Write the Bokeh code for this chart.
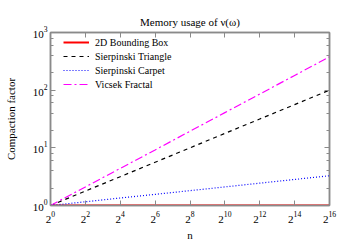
from bokeh.plotting import figure
from bokeh.models import (LogAxis, FixedTicker, LogTicker, LogTickFormatter, Legend, LegendItem,
                          CustomJSTickFormatter)
from bokeh.embed import file_html
from bokeh.resources import INLINE

# ---- data ----
n = [1, 4, 16, 64, 256, 1024, 4096, 16384, 65536]
bounding_box = [1, 1, 1, 1, 1, 1, 1, 1, 1]
sierpinski_triangle = [1, 1.78, 3.16, 5.62, 10.0, 17.8, 31.6, 56.2, 100]
sierpinski_carpet = [1, 1.16, 1.35, 1.56, 1.81, 2.10, 2.44, 2.83, 3.28]
vicsek_fractal = [1, 2.1, 4.4, 9.2, 19.4, 40.8, 85.6, 180, 378]
x_ticks = [1, 4, 16, 64, 256, 1024, 4096, 16384, 65536]
y_ticks = [1, 10, 100, 1000]

FONT = "Liberation Serif"
GRAY = "#8a8a8a"
FRAME_W, FRAME_H = 279, 173

p = figure(frame_width=FRAME_W, frame_height=FRAME_H, x_axis_type="log", y_axis_type="log",
           x_range=(1, 65536), y_range=(1, 1000),
           title="Memory usage of ν(ω)",
           output_backend="svg", toolbar_location=None,
           min_border_left=50, min_border_right=21, min_border_top=32, min_border_bottom=39)

p.title.text_font = FONT
p.title.text_font_size = "11px"
p.title.text_font_style = "normal"
p.title.align = "center"
p.title.text_color = "#000000"
p.title.standoff = 10

p.grid.visible = False
p.outline_line_color = GRAY
p.outline_line_width = 1.5
p.background_fill_color = "white"
p.border_fill_color = "white"

xt = FixedTicker(ticks=x_ticks, minor_ticks=[])
yt = LogTicker(mantissas=[1], desired_num_ticks=4)
xfmt = LogTickFormatter(ticker=LogTicker(base=2))
yfmt = LogTickFormatter()
blank = CustomJSTickFormatter(code="return ''")

def style(ax, labels=True):
    ax.axis_line_color = GRAY
    ax.axis_line_width = 1.5
    ax.major_tick_line_color = GRAY
    ax.minor_tick_line_color = GRAY
    ax.major_tick_in = 5
    ax.major_tick_out = 0
    ax.minor_tick_in = 3
    ax.minor_tick_out = 0
    ax.major_label_text_font = FONT
    ax.major_label_text_font_size = "11px"
    ax.major_label_text_color = "#000000"
    ax.axis_label_text_font = FONT
    ax.axis_label_text_font_size = "11px"
    ax.axis_label_text_font_style = "normal"
    ax.axis_label_text_color = "#000000"
    ax.major_label_standoff = 3
    if not labels:
        ax.major_label_standoff = 0

xa = p.xaxis[0]
xa.ticker = xt
xa.formatter = xfmt
xa.axis_label = "n"
style(xa)
xa.major_label_standoff = 6
xa.axis_label_standoff = 3
xa.minor_tick_line_color = None

ya = p.yaxis[0]
ya.ticker = yt
ya.formatter = yfmt
ya.axis_label = "Compaction factor"
ya.axis_label_standoff = 13
style(ya)

top = LogAxis(ticker=xt, formatter=blank)
style(top, labels=False)
top.minor_tick_line_color = None
p.add_layout(top, "above")

right = LogAxis(ticker=yt, formatter=blank)
style(right, labels=False)
p.add_layout(right, "right")

r1 = p.line(n, bounding_box, line_color="#ff0000", line_width=2)
r2 = p.line(n, sierpinski_triangle, line_color="#000000", line_width=1.2, line_dash="4 4")
r3 = p.line(n, sierpinski_carpet, line_color="#0000ff", line_width=1.2, line_dash="1 2")
r4 = p.line(n, vicsek_fractal, line_color="#ff00ff", line_width=1.2, line_dash="8 3 2 3")

ROW = 14
legend = Legend(items=[
    LegendItem(label="2D Bounding Box", renderers=[r1]),
    LegendItem(label="Sierpinski Triangle", renderers=[r2]),
    LegendItem(label="Sierpinski Carpet", renderers=[r3]),
    LegendItem(label="Vicsek Fractal", renderers=[r4]),
], location=(13, FRAME_H - 3 - 4 * ROW))
legend.border_line_color = None
legend.background_fill_alpha = 0
legend.margin = 0
legend.padding = 0
legend.spacing = 0
legend.glyph_width = 26
legend.glyph_height = ROW
legend.label_height = ROW
legend.label_standoff = 6
legend.label_text_font = FONT
legend.label_text_font_size = "10px"
legend.label_text_color = "#000000"
p.add_layout(legend, "center")

open("out.html", "w").write(file_html(p, INLINE))
